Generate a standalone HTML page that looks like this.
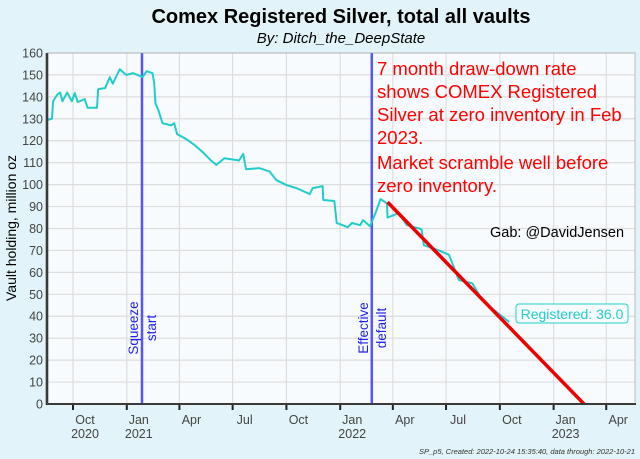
<!DOCTYPE html>
<html><head><meta charset="utf-8"><style>
body{margin:0;background:#e2f4f9;}
svg{display:block;font-family:"Liberation Sans",sans-serif;}
</style></head><body>
<svg id="chart" width="640" height="459" viewBox="0 0 640 459">
<rect x="0" y="0" width="640" height="459" fill="#e2f4f9"/>
<text x="341" y="23" text-anchor="middle" font-size="20" font-weight="bold" fill="#000">Comex Registered Silver, total all vaults</text>
<text x="341" y="43" text-anchor="middle" font-size="15" font-style="italic" fill="#000">By:  Ditch_the_DeepState</text>
<rect x="47" y="53" width="588" height="351" fill="#f7fbfd"/>
<g id="grid"></g>
<g id="marks"></g>
<g id="axes"></g>
<text transform="translate(16,228) rotate(-90)" text-anchor="middle" font-size="14" fill="#000">Vault holding, million oz</text>
<g fill="#ff0000" font-size="18.5">
<text x="377" y="75">7 month draw-down rate</text>
<text x="377" y="98">shows COMEX Registered</text>
<text x="377" y="121">Silver at zero inventory in Feb</text>
<text x="377" y="144">2023.</text>
<text x="377" y="169">Market scramble well before</text>
<text x="377" y="192">zero inventory.</text>
</g>
<text x="490" y="237" font-size="14.5" fill="#000">Gab: @DavidJensen</text>
<rect x="516" y="304" width="112" height="19" rx="3" fill="#f7fbfd" stroke="#22d0d0" stroke-width="1"/>
<text x="572" y="319" text-anchor="middle" font-size="14" fill="#22cccc">Registered: 36.0</text>
<text x="635" y="454" text-anchor="end" font-size="7.5" font-style="italic" fill="#333">SP_p5, Created: 2022-10-24 15:35:40, data through: 2022-10-21</text>
</svg>
<script>
const dates=["2020-08-17","2020-08-26","2020-08-28","2020-09-04","2020-09-09","2020-09-13","2020-09-21","2020-09-29","2020-10-04","2020-10-09","2020-10-21","2020-10-26","2020-11-11","2020-11-13","2020-11-25","2020-12-03","2020-12-08","2020-12-20","2020-12-31","2021-01-12","2021-01-28","2021-02-04","2021-02-14","2021-02-17","2021-02-19","2021-02-24","2021-03-03","2021-03-18","2021-03-23","2021-03-28","2021-04-13","2021-04-27","2021-05-10","2021-05-25","2021-06-03","2021-06-17","2021-07-12","2021-07-19","2021-07-24","2021-08-16","2021-09-02","2021-09-14","2021-10-01","2021-10-18","2021-11-10","2021-11-15","2021-12-02","2021-12-03","2021-12-22","2021-12-26","2022-01-14","2022-01-21","2022-02-04","2022-02-09","2022-02-21","2022-03-03","2022-03-11","2022-03-22","2022-03-23","2022-04-11","2022-04-25","2022-05-20","2022-05-24","2022-06-19","2022-07-06","2022-07-23","2022-08-15","2022-09-01","2022-09-25","2022-10-17"];
const registered=[129.4,130,138,141,142,138,142,138,141.7,137.6,139,135,135,143.5,144,149,146,152.6,150,150.8,149,151.7,150.8,146,137,134,128,127,128,123,120.7,118,115,111,109,112,111,114,107,107.5,106,102,99.8,98.4,95.7,98.4,99.3,93,92.5,82.5,80.6,82.5,81.5,83.8,81,87.5,93.4,91.4,85,87,81.5,79.7,72.4,70,68,56.5,55,47.4,42,37.4];
const trendDates=["2022-03-23","2023-02-22"];
const trendValues=[92,0];
const eventDates=["2021-01-27","2022-02-24"];
const eventLabels=[["Squeeze","start"],["Effective","default"]];
const yTicks=[0,10,20,30,40,50,60,70,80,90,100,110,120,130,140,150,160];
const xTickDates=["2020-10-01","2021-01-01","2021-04-01","2021-07-01","2021-10-01","2022-01-01","2022-04-01","2022-07-01","2022-10-01","2023-01-01","2023-04-01"];
const xTickLabels=[["Oct","2020"],["Jan","2021"],["Apr",""],["Jul",""],["Oct",""],["Jan","2022"],["Apr",""],["Jul",""],["Oct",""],["Jan","2023"],["Apr",""]];

const NS="http://www.w3.org/2000/svg";
const t0=Date.parse("2020-10-01"),day=86400000;
function xs(d){return 73+(Date.parse(d)-t0)/day*0.5847;}
function ys(v){return 404-v*2.194;}
function mk(tag,attrs,parent){const e=document.createElementNS(NS,tag);for(const k in attrs)e.setAttribute(k,attrs[k]);parent.appendChild(e);return e;}
const grid=document.getElementById('grid'),marks=document.getElementById('marks'),axes=document.getElementById('axes');
yTicks.forEach(v=>{
  const l=mk('line',{x1:47,x2:635,y1:ys(v),y2:ys(v),stroke:'#dddddd','stroke-width':1.2},grid);
  
  
  const t=mk('text',{x:43,y:ys(v)+4.5,'text-anchor':'end','font-size':12.5,fill:'#444'},axes);
  t.textContent=v;
  
  
});
xTickDates.forEach((d,i)=>{
  const x=xs(d);
  const l=mk('line',{x1:x,x2:x,y1:53,y2:404,stroke:'#dddddd','stroke-width':1.2},grid);
  
  
  const tk=mk('line',{x1:x,x2:x,y1:404,y2:410,stroke:'#222','stroke-width':2},axes);
  
  
  const t=mk('text',{x:x+12,y:424,'text-anchor':'middle','font-size':12.5,fill:'#444'},axes);
  t.textContent=xTickLabels[i][0];
  
  
  if(xTickLabels[i][1]){
    const t2=mk('text',{x:x+12,y:438,'text-anchor':'middle','font-size':12.5,fill:'#444'},axes);
    t2.textContent=xTickLabels[i][1];
    
    
  }
});
const al=mk('line',{x1:47,x2:47,y1:53,y2:405,stroke:'#111','stroke-width':2.5},axes);


const bl=mk('line',{x1:46,x2:636,y1:404,y2:404,stroke:'#111','stroke-width':2},axes);


const pb=mk('rect',{x:47,y:53,width:588,height:351,fill:'none',stroke:'#999','stroke-width':0.6},axes);



eventDates.forEach((d,i)=>{
  const x=xs(d);
  const l=mk('line',{x1:x,x2:x,y1:53,y2:404,stroke:'#5555ff','stroke-width':2.5},marks);
  
  
  eventLabels[i].forEach((s,j)=>{
    const tx=x-4+j*18;
    const t=mk('text',{x:0,y:0,transform:`translate(${tx},328) rotate(-90)`,'text-anchor':'middle','font-size':13.5,fill:'#2222ee'},marks);
    t.textContent=s;
    
    
  });
});
const pts=dates.map((d,i)=>xs(d)+','+ys(registered[i]));
const pl=mk('polyline',{points:pts.join(' '),fill:'none',stroke:'#22cccc','stroke-width':2,'stroke-linejoin':'round'},marks);


const tl=mk('line',{x1:xs(trendDates[0]),y1:ys(trendValues[0]),x2:xs(trendDates[1]),y2:ys(trendValues[1]),stroke:'#ee0000','stroke-width':3.5},marks);


</script>
</body></html>
